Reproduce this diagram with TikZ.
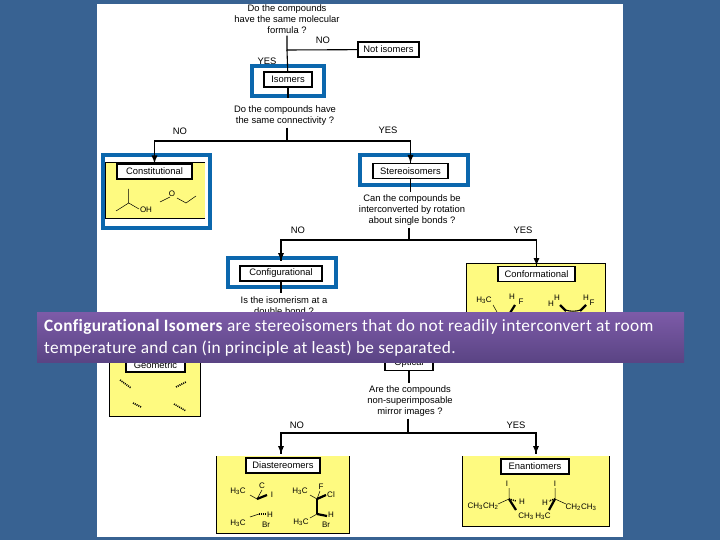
\documentclass[tikz,border=0pt]{standalone}
\usepackage{fontspec}
\setmainfont{Liberation Sans}
\newfontfamily\bannerfont[LetterSpace=2.0,RawFeature={-liga}]{Carlito}
\usetikzlibrary{arrows}

\definecolor{slideblue}{HTML}{386292}
\definecolor{frameblue}{HTML}{0B67AD}
\definecolor{panelyellow}{HTML}{FEFA80}
\definecolor{bandtop}{HTML}{7D5BA8}
\definecolor{bandbottom}{HTML}{5A4484}

\tikzset{
	question/.style={align=center, font=\fontsize{9.4}{11}\selectfont, inner sep=2pt},
	answer/.style={font=\fontsize{9.4}{10}\selectfont, inner sep=0pt},
	namebox/.style={draw, line width=1.2pt, fill=white, font=\fontsize{9.4}{10}\selectfont, inner sep=0pt, minimum height=15pt},
	panel/.style={draw, line width=0.8pt},
	blueframe/.style={draw=frameblue, line width=3.5pt},
	link/.style={line width=1.1pt},
	stem/.style={line width=1.7pt},
	atom/.style={font=\fontsize{8}{8}\selectfont, inner sep=0pt},
	bond/.style={line width=0.5pt},
	wedge/.style={line width=2.2pt},
	hashed/.style={line width=1.6pt, dash pattern=on 1pt off 1pt}
}

\begin{document}
\begin{tikzpicture}[x=1pt, y=-1pt]
	\useasboundingbox (0,0) rectangle (720,540);
	\fill [slideblue] (0,0) rectangle (720,540);
	\fill [white] (97,4) rectangle (623,537);

	% panels and frames
	\fill [panelyellow] (105,162) rectangle (205,218);
	\draw [panel] (205,162) -- (105,162) -- (105,218) -- (205,218);
	\draw [panel, fill=panelyellow] (466,263) rectangle (605,340);
	\draw [panel, fill=panelyellow] (109,340) rectangle (200,416);
	\fill [panelyellow] (216,456) rectangle (349,533);
	\draw [panel] (216,456) -- (216,533) -- (349,533) -- (349,456);
	\fill [panelyellow] (462,456) rectangle (609,526);
	\draw [panel] (462,456) -- (462,526) -- (609,526) -- (609,456);
	\draw [blueframe] (252,66) rectangle (324,96);
	\draw [blueframe] (103,155) rectangle (210,228);
	\draw [blueframe] (360,155) rectangle (468,185);
	\draw [blueframe] (228,258) rectangle (336,287);

	% questions and boxes
	\node [question] (qformula) at (287,19) {Do the compounds\\have the same molecular\\formula ?};
	\node [namebox, minimum width=61pt] (notisomers) at (388.5,49.5) {Not isomers};
	\node [namebox, minimum width=48pt] (isomers) at (288,79.5) {Isomers};
	\node [question] (qconnect) at (285,115.5) {Do the compounds have\\the same connectivity ?};
	\node [namebox, minimum width=75pt] (constitutional) at (154.5,171.5) {Constitutional};
	\node [namebox, minimum width=75pt] (stereoisomers) at (410.5,171) {Stereoisomers};
	\node [question] (qrotate) at (412,210) {Can the compounds be\\interconverted by rotation\\about single bonds ?};
	\node [namebox, minimum width=82pt] (configurational) at (281,273.5) {Configurational};
	\node [namebox, minimum width=77pt] (conformational) at (536.5,274) {Conformational};
	\node [question] (qdouble) at (284,305.5) {Is the isomerism at a\\double bond ?};
	\node [namebox, minimum width=59pt, minimum height=14pt] (geometric) at (155.5,365) {Geometric};
	\node [namebox, minimum width=48pt] (optical) at (409,363) {Optical};
	\node [question] (qmirror) at (410,401) {Are the compounds\\non-superimposable\\mirror images ?};
	\node [namebox, minimum width=74pt] (diastereomers) at (283,465.5) {Diastereomers};
	\node [namebox, minimum width=68pt] (enantiomers) at (535,466.5) {Enantiomers};

	% answers
	\node [answer] (noa) at (323,40) {NO};
	\node [answer] (yesa) at (267,61) {YES};
	\node [answer] (nob) at (180,131) {NO};
	\node [answer] (yesb) at (388,130) {YES};
	\node [answer] (noc) at (298,230) {NO};
	\node [answer] (yesc) at (523,230) {YES};
	\node [answer] (nod) at (297,425) {NO};
	\node [answer] (yesd) at (516,425) {YES};

	% connectors
	\coordinate (splita) at (287,50);
	\coordinate (splitb) at (287,141);
	\coordinate (splitc) at (409,240);
	\coordinate (splitd) at (408,433);
	\coordinate (configend) at (281,261);
	\coordinate (diaend) at (281,454);
	\coordinate (enanend) at (536,454);
	\draw [link] (qformula) -- (splita) -- (notisomers);
	\draw [link] (splita) -- (isomers);
	\draw [stem] (isomers) -- (288,98);
	\draw [link] (qconnect.south -| splitb) -- (splitb);
	\draw [link] (splitb) -| (constitutional.north);
	\draw [link] (splitb) -| (stereoisomers.north);
	\draw [stem, arrows={-latex}] (154.5,155) -- (constitutional.north);
	\draw [stem, arrows={-latex}] (410.5,155) -- (stereoisomers.north);
	\draw [link] (stereoisomers) -- (410.5,192);
	\draw [stem] (qrotate.south -| splitc) -- (splitc);
	\draw [link] (splitc) -| (configend);
	\draw [link] (splitc) -| (conformational.north);
	\draw [stem, arrows={-latex}] (281,250) -- (configend);
	\draw [stem, arrows={-latex}] (536.5,245) -- (conformational.north);
	\draw [link] (configurational) -- (281,293);
	\draw [stem] (optical) -- (qmirror.north -| optical);
	\draw [link] (qmirror.south -| splitd) -- (splitd);
	\draw [link] (splitd) -| (diaend);
	\draw [link] (splitd) -| (enanend);
	\draw [stem, arrows={-latex}] (281,440) -- (diaend);
	\draw [stem, arrows={-latex}] (536,440) -- (enanend);

	% constitutional molecules
	\draw [bond] (128.7,189) -- (128.7,203) -- (116,211);
	\draw [bond] (128.7,203) -- (139,209);
	\node [atom] (oh) at (146,210) {OH};
	\draw [bond] (160,202) -- (170,197);
	\node [atom] (oxy) at (172,194) {O};
	\draw [bond] (177,198) -- (186,203) -- (196,196);

	% conformational molecules
	\node [atom] (confa) at (484,300) {H\textsubscript{3}C};
	\node [atom] (confb) at (512,297) {H};
	\node [atom] (confc) at (521,302) {F};
	\node [atom] (confd) at (551,304) {H};
	\node [atom] (confe) at (557,298) {H};
	\node [atom] (conff) at (586,298) {H};
	\node [atom] (confg) at (592,303) {F};
	\draw [bond] (493,305) -- (497,312);
	\draw [wedge] (510,313) -- (515,305);
	\draw [wedge] (560,305) -- (566,311);
	\draw [wedge] (580,311) -- (586,305);
	\draw [link] (565,310) to [bend right=15] (581,310);

	% geometric molecules
	\draw [hashed] (120,380) -- (131,388);
	\draw [hashed] (176,387) -- (186,382);
	\draw [hashed] (133,403) -- (141,407);
	\draw [hashed] (174,404) -- (186,411);

	% diastereomers molecules
	\node [atom] (diaa) at (238,491) {H\textsubscript{3}C};
	\node [atom] (diab) at (262,486) {C};
	\node [atom] (diac) at (272,495) {I};
	\node [atom] (diad) at (238,523) {H\textsubscript{3}C};
	\node [atom] (diae) at (270,515) {H};
	\node [atom] (diaf) at (266,525) {Br};
	\draw [bond] (250,495) -- (257,499) -- (262,490);
	\draw [wedge] (257,499) -- (267,495);
	\draw [bond] (250,517) -- (259,514);
	\draw [hashed] (259,514) -- (267,514);
	\node [atom] (diag) at (300,491) {H\textsubscript{3}C};
	\node [atom] (diah) at (321,487) {F};
	\node [atom] (diai) at (331,495) {Cl};
	\node [atom] (diaj) at (301,522) {H\textsubscript{3}C};
	\node [atom] (diak) at (331,515) {H};
	\node [atom] (dial) at (326,525) {Br};
	\draw [bond] (310,495) -- (317,499) -- (320,491);
	\draw [wedge] (317,499) -- (326,495);
	\draw [link] (317,499) -- (317,514);
	\draw [bond] (310,518) -- (317,514);
	\draw [wedge] (317,514) -- (327,516);

	% enantiomers molecules
	\node [atom] (enaa) at (483,506) {CH\textsubscript{3}CH\textsubscript{2}};
	\node [atom] (enab) at (522,502) {H};
	\node [atom] (enac) at (526,516) {CH\textsubscript{3}};
	\node [atom] (enad) at (507,484) {I};
	\node [atom] (enae) at (581,507) {CH\textsubscript{2}CH\textsubscript{3}};
	\node [atom] (enaf) at (545,503) {H};
	\node [atom] (enag) at (543,516) {H\textsubscript{3}C};
	\node [atom] (enah) at (555,484) {I};
	\draw [bond] (509,488) -- (509,499) -- (498,504);
	\draw [wedge] (509,499) -- (516,510);
	\draw [hashed] (509,499) -- (516,501);
	\draw [bond] (555,488) -- (555,499) -- (566,504);
	\draw [wedge] (555,499) -- (549,510);
	\draw [hashed] (555,499) -- (549,501);

	% banner over the chart
	\shade [top color=bandtop, bottom color=bandbottom] (37,312) rectangle (684,362);
	\node [anchor=north west, align=left, text=white, inner sep=0pt, font=\bannerfont\fontsize{17.3}{22}\selectfont] (banner) at (44,319.5)
		{\textbf{Configurational Isomers} are stereoisomers that do not readily interconvert at room\\temperature and can (in principle at least) be separated.};
\end{tikzpicture}
\end{document}
